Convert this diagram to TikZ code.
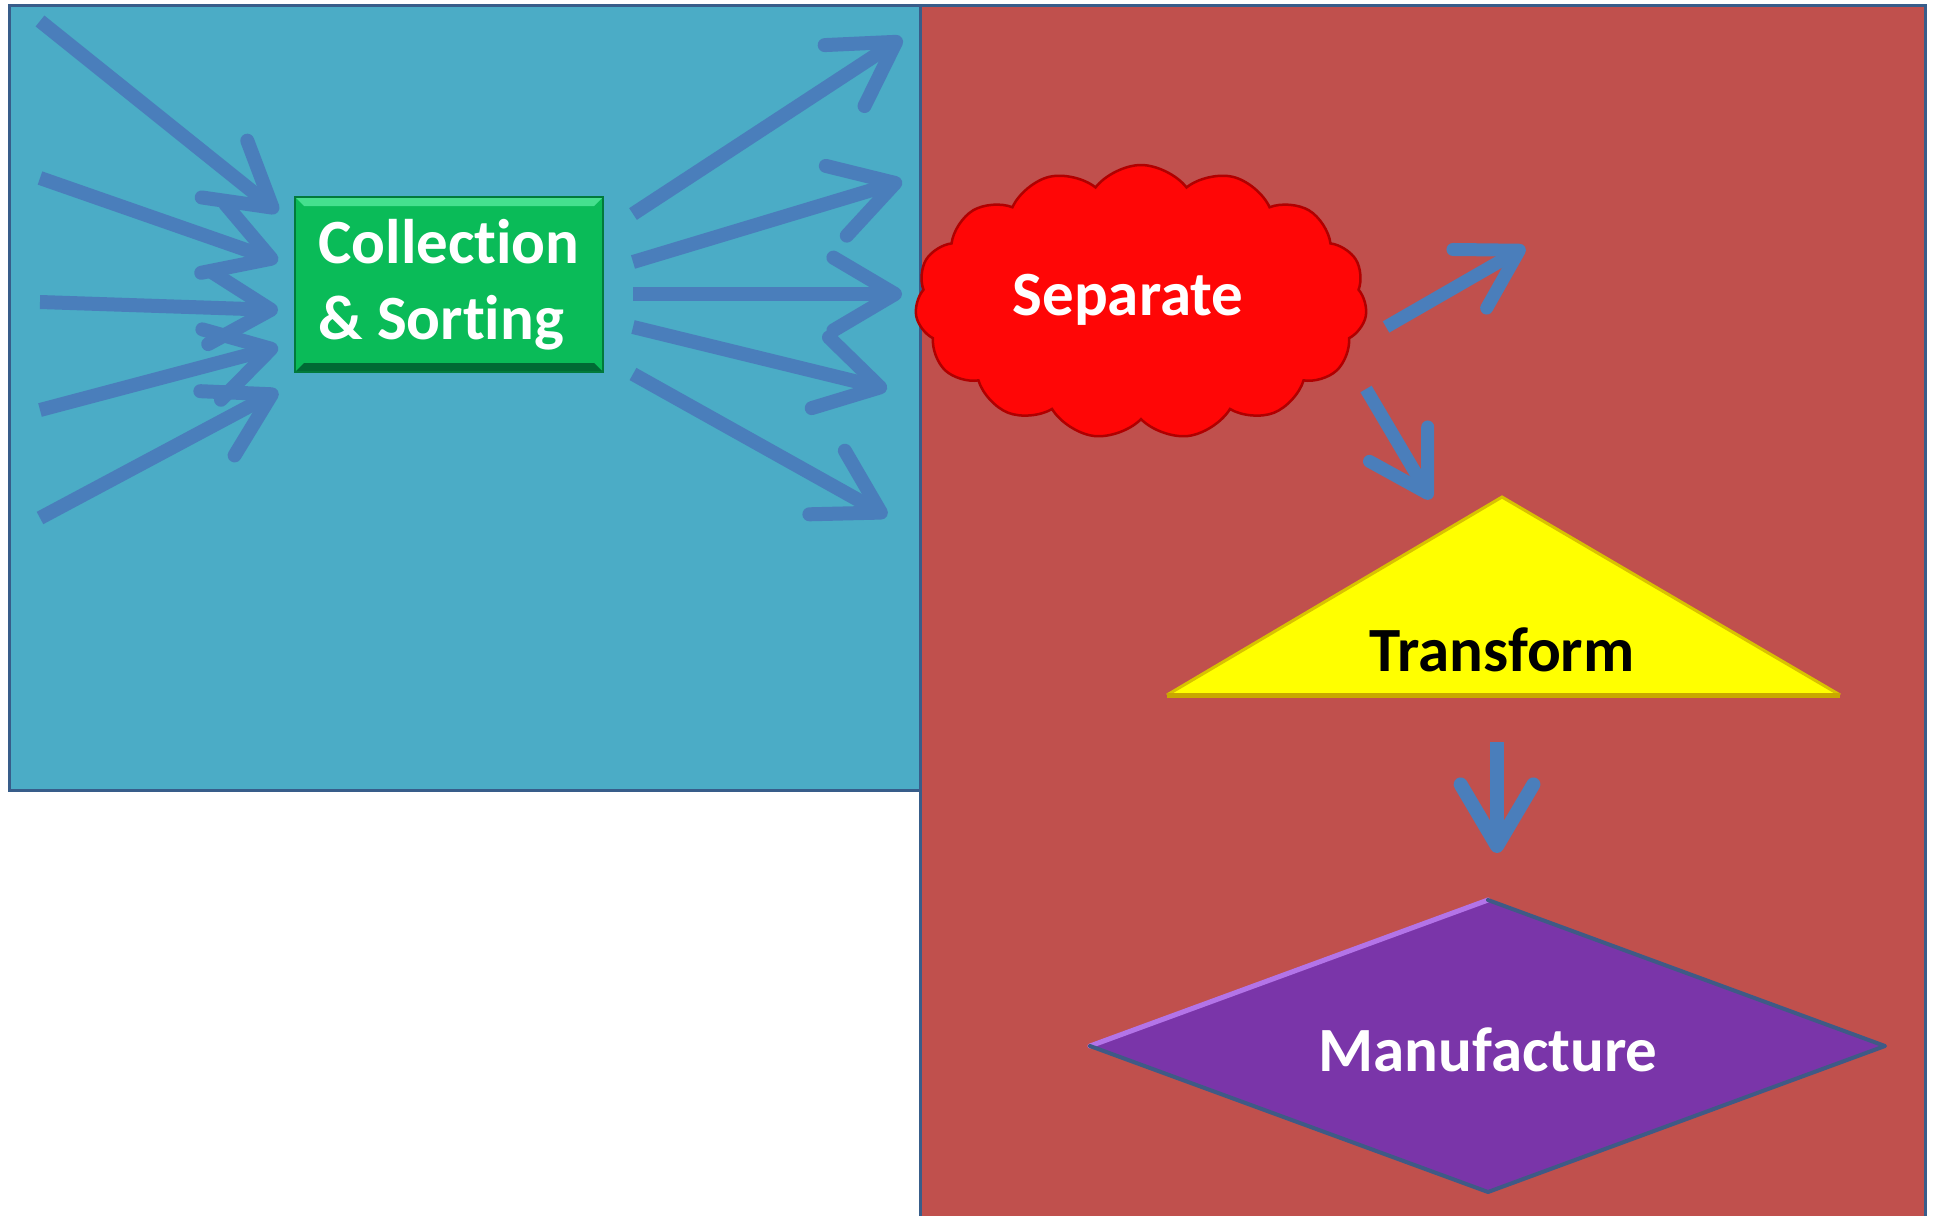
\documentclass[tikz,border=0pt]{standalone}
\usepackage{fontspec}
\setmainfont{Carlito}[Ligatures=NoCommon]
\usetikzlibrary{arrows.meta,shapes.symbols}
\definecolor{panelblue}{HTML}{4BACC6}
\definecolor{panelred}{HTML}{C0504D}
\definecolor{panelborder}{HTML}{385D8A}
\definecolor{arrowblue}{HTML}{4A7EBB}
\definecolor{boxgreen}{HTML}{0ABB58}
\definecolor{boxgreenlight}{HTML}{45E08E}
\definecolor{boxgreendark}{HTML}{006A34}
\definecolor{cloudred}{HTML}{FF0606}
\definecolor{clouddark}{HTML}{B00000}
\definecolor{triyellow}{HTML}{FFFF00}
\definecolor{triedge}{HTML}{C8A800}
\definecolor{dmdpurple}{HTML}{7A35A9}
\definecolor{dmdlight}{HTML}{B374E8}
\definecolor{dmddark}{HTML}{3F5A86}
\begin{document}
\begin{tikzpicture}[x=1pt,y=-1pt,
  flow/.style={line width=14pt, draw=arrowblue,
    -{Straight Barb[length=0pt 4.4,width=0pt 5.2,round]}},
  lbl/.style={font=\fontsize{63}{76}\selectfont\bfseries, align=center},
  panel/.style={draw=panelborder, line width=3pt}]
\useasboundingbox (0,0) rectangle (1937,1215);
\fill[white] (0,0) rectangle (1937,1215);

% panels
\path[panel, fill=panelred] (920,6) rectangle (1925,1240);
\path[panel, fill=panelblue] (9,6) rectangle (920,790);

% Collection & Sorting box
\node[rectangle, fill=boxgreen, draw=boxgreendark!80!boxgreen, line width=2pt,
  minimum width=308pt, minimum height=175pt, inner sep=0pt, text=white, lbl, align=left,
  path picture={
    \fill[boxgreenlight] (path picture bounding box.north west) -- (path picture bounding box.north east)
      -- ([xshift=-9pt,yshift=-9pt]path picture bounding box.north east) -- ([xshift=9pt,yshift=-9pt]path picture bounding box.north west) -- cycle;
    \fill[boxgreendark] (path picture bounding box.south west) -- (path picture bounding box.south east)
      -- ([xshift=-9pt,yshift=9pt]path picture bounding box.south east) -- ([xshift=9pt,yshift=9pt]path picture bounding box.south west) -- cycle;
  }] (coll) at (449,284.5) {Collection\\\& Sorting};

% incoming arrows
\coordinate (i1s) at (40,21);   \coordinate (i1e) at (278,212);
\coordinate (i2s) at (40,178);  \coordinate (i2e) at (278,261);
\coordinate (i3s) at (40,302);  \coordinate (i3e) at (278,310);
\coordinate (i4s) at (40,410);  \coordinate (i4e) at (278,347);
\coordinate (i5s) at (40,518);  \coordinate (i5e) at (278,391);
\foreach \k in {1,...,5} {\draw[flow] (i\k s) -- (i\k e);}

% outgoing arrows
\coordinate (o1s) at (633,214); \coordinate (o1e) at (902,38);
\coordinate (o2s) at (633,262); \coordinate (o2e) at (902,181);
\coordinate (o3s) at (633,294); \coordinate (o3e) at (902,294);
\coordinate (o4s) at (633,327); \coordinate (o4e) at (887,389);
\coordinate (o5s) at (633,374); \coordinate (o5e) at (887,516);
\foreach \k in {1,...,5} {\draw[flow] (o\k s) -- (o\k e);}

% Separate cloud
\node[cloud, cloud puffs=15, cloud puff arc=105, aspect=1.6,
  fill=cloudred, draw=clouddark, line width=2.5pt,
  minimum width=452pt, minimum height=274pt, inner sep=0pt] (sep) at (1141,302) {};
\node[lbl, text=white] (seplbl) at (1128,300) {Separate};

\coordinate (s1s) at (1386,327); \coordinate (s1e) at (1525,247);
\coordinate (s2s) at (1366,389); \coordinate (s2e) at (1431,499);
\draw[flow, line width=13pt] (s1s) -- (s1e);
\draw[flow, line width=13pt] (s2s) -- (s2e);

% Transform triangle
\coordinate (tl) at (1167,695);
\coordinate (tt) at (1502,497);
\coordinate (tr) at (1840,695);
\fill[triyellow] (tl) -- (tt) -- (tr) -- cycle;
\draw[triedge!70!triyellow, line width=3pt, line join=miter] (tl) -- (tt) -- (tr);
\draw[triedge, line width=5pt] (tl) -- (tr);
\node[lbl, text=black] (trans) at (1502,650) {Transform};

\coordinate (t1s) at (1497,742); \coordinate (t1e) at (1497,853);
\draw[flow] (t1s) -- (t1e);

% Manufacture diamond
\coordinate (dt) at (1488,900);
\coordinate (dr) at (1885,1046);
\coordinate (db) at (1488,1192);
\coordinate (dl) at (1090,1046);
\fill[dmdpurple] (dt) -- (dr) -- (db) -- (dl) -- cycle;
\draw[dmdlight, line width=5pt, line cap=round] (dl) -- (dt);
\draw[dmddark, line width=4pt, line cap=round, line join=round] (dt) -- (dr) -- (db) -- (dl);
\node[lbl, text=white] (manu) at (1488,1050) {Manufacture};
\end{tikzpicture}
\end{document}
